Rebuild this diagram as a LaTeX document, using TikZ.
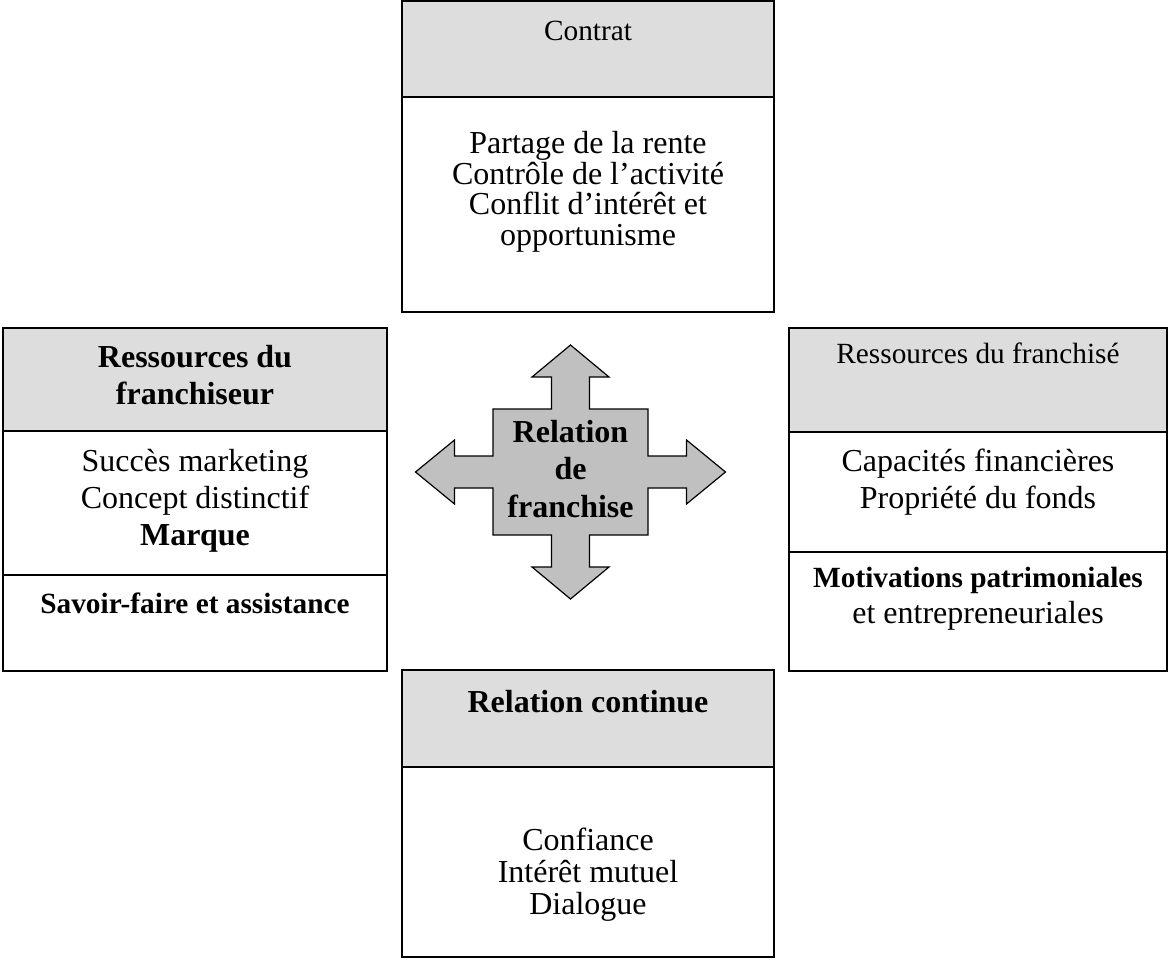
\documentclass[tikz,border=0pt]{standalone}
\usepackage{fontspec}
\setmainfont{Liberation Serif}
\definecolor{hdrgray}{RGB}{221,221,221}
\definecolor{arrgray}{RGB}{192,192,192}
\tikzset{
  box/.style={line width=2pt},
  head/.style={box, fill=hdrgray},
  txt/.style={anchor=base, align=center, inner sep=0pt, font=\fontsize{32}{31}\selectfont},
  txtwide/.style={txt, font=\fontsize{32}{37}\selectfont},
  txtbold/.style={txt, font=\fontsize{32}{37}\selectfont\bfseries},
  txtsmall/.style={txt, font=\fontsize{29.3}{36}\selectfont},
}
\begin{document}
\begin{tikzpicture}[x=1pt,y=-1pt]
    \useasboundingbox (0,0) rectangle (1168,961);
    % Contrat
    \filldraw[head] (402,1) rectangle (774,97);
    \draw[box] (402,97) rectangle (774,312);
    \node[txtsmall] (contrat) at (588,40) {Contrat};
    \node[txt, font=\fontsize{32}{30.5}\selectfont] (ctrtxt) at (588,245) {Partage de la rente\\Contrôle de l’activité\\Conflit d’intérêt et\\opportunisme};
    % franchiseur
    \filldraw[head] (3,328) rectangle (387,431);
    \draw[box] (3,431) rectangle (387,575);
    \draw[box] (3,575) rectangle (387,671);
    \node[txtbold] (frhead) at (195,404) {Ressources du\\franchiseur};
    \node[txtwide] (frres) at (195,545) {Succès marketing\\Concept distinctif\\\textbf{Marque}};
    \node[txtsmall, font=\fontsize{29.3}{36}\selectfont\bfseries] (frsav) at (195,613) {Savoir-faire et assistance};
    % franchise
    \filldraw[head] (789,328) rectangle (1167,432);
    \draw[box] (789,432) rectangle (1167,552);
    \draw[box] (789,552) rectangle (1167,671);
    \node[txtsmall] (fehead) at (978,363) {Ressources du franchisé};
    \node[txtwide] (feres) at (978,508) {Capacités financières\\Propriété du fonds};
    \node[txt, font=\fontsize{32}{36}\selectfont] (femot) at (978,623) {{\fontsize{29.3}{36}\selectfont\bfseries Motivations patrimoniales}\\et entrepreneuriales};
    % relation continue
    \filldraw[head] (402,670) rectangle (774,767);
    \draw[box] (402,767) rectangle (774,957);
    \node[txtbold] (relhead) at (588,712) {Relation continue};
    \node[txt, font=\fontsize{32}{32}\selectfont] (reltxt) at (588,914) {Confiance\\Intérêt mutuel\\Dialogue};
    % fleche centrale
    \begin{scope}[shift={(570.5,472)}]
    \filldraw[fill=arrgray, line width=1.2pt, line join=miter]
      (0,-127) -- (38.5,-95) -- (19,-95) -- (19,-63) -- (77.5,-63) -- (77.5,-16)
      -- (116,-16) -- (116,-32) -- (155,0) -- (116,32) -- (116,16) -- (77.5,16)
      -- (77.5,63) -- (19,63) -- (19,95) -- (38.5,95) -- (0,127) -- (-38.5,95)
      -- (-19,95) -- (-19,63) -- (-77.5,63) -- (-77.5,16) -- (-116,16) -- (-116,32)
      -- (-155,0) -- (-116,-32) -- (-116,-16) -- (-77.5,-16) -- (-77.5,-63)
      -- (-19,-63) -- (-19,-95) -- (-38.5,-95) -- cycle;
    \end{scope}
    \node[txtbold, font=\fontsize{32}{37.5}\selectfont\bfseries] (centre) at (570.5,517) {Relation\\de\\franchise};
\end{tikzpicture}
\end{document}
